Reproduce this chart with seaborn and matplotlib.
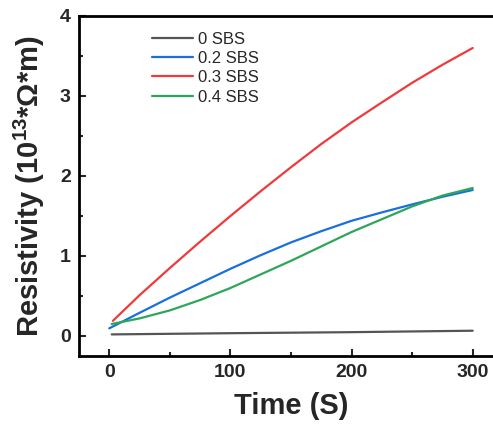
import matplotlib
matplotlib.use('Agg')
import matplotlib.pyplot as plt
import numpy as np
import pandas as pd
import seaborn as sns

# values
t_0 = [2, 100, 200, 300]
r_0 = [0.02, 0.035, 0.048, 0.066]

t_02 = [0, 25, 50, 75, 100, 125, 150, 175, 200, 225, 250, 275, 300]
r_02 = [0.096, 0.29, 0.48, 0.66, 0.84, 1.01, 1.17, 1.31, 1.44, 1.545, 1.645, 1.74, 1.825]

t_03 = [3, 25, 50, 75, 100, 125, 150, 175, 200, 225, 250, 275, 300]
r_03 = [0.19, 0.51, 0.85, 1.18, 1.50, 1.81, 2.11, 2.40, 2.67, 2.92, 3.165, 3.39, 3.60]

t_04 = [2, 25, 50, 75, 100, 125, 150, 175, 200, 225, 250, 275, 300]
r_04 = [0.15, 0.22, 0.32, 0.45, 0.60, 0.77, 0.94, 1.12, 1.30, 1.46, 1.62, 1.755, 1.85]

labels = ['0 SBS', '0.2 SBS', '0.3 SBS', '0.4 SBS']
colors = ['#555555', '#1a6fdf', '#f0393a', '#2ea65a']

frames = []
for lab, tt, rr in zip(labels, [t_0, t_02, t_03, t_04], [r_0, r_02, r_03, r_04]):
    frames.append(pd.DataFrame({'Time': tt, 'Resistivity': rr, 'sample': lab}))
df = pd.concat(frames, ignore_index=True)

sns.set_theme(style='ticks')
plt.rcParams['font.family'] = ['Liberation Sans', 'DejaVu Sans']
plt.rcParams['mathtext.fontset'] = 'custom'
plt.rcParams['mathtext.rm'] = 'Liberation Sans:bold'
plt.rcParams['mathtext.bf'] = 'Liberation Sans:bold'

fig = plt.figure(figsize=(4.93, 4.26), dpi=100)
fig.patch.set_facecolor('white')
ax = fig.add_axes([79/493, 70/426, 424/493, 340/426])
ax.set_facecolor('white')

sns.lineplot(data=df, x='Time', y='Resistivity', hue='sample', palette=colors,
             linewidth=1.6, ax=ax, sort=True)

ax.set_xlim(-25, 325)
ax.set_ylim(-0.25, 4)
ax.set_xticks([0, 100, 200, 300])
ax.set_xticks([50, 150, 250], minor=True)
ax.set_yticks([0, 1, 2, 3, 4])
ax.set_yticks([0.5, 1.5, 2.5, 3.5], minor=True)
ax.tick_params(which='major', direction='in', length=5, width=1.5, labelsize=14, pad=6)
ax.tick_params(which='minor', direction='in', length=3, width=1.5)
for lab in ax.get_xticklabels() + ax.get_yticklabels():
    lab.set_fontweight('bold')
for s in ax.spines.values():
    s.set_linewidth(2)
    s.set_color('black')

ax.set_xlabel('Time (S)', fontsize=21, fontweight='bold', labelpad=8)
ax.set_ylabel(r'Resistivity (10$^{13}$*Ω*m)', fontsize=21, fontweight='bold', labelpad=9)

ax.legend(frameon=False, fontsize=12, loc='upper left',
          bbox_to_anchor=(152/493, 1 - 32/426), bbox_transform=fig.transFigure,
          handlelength=2.45, handletextpad=0.3, labelspacing=0.25,
          borderpad=0, borderaxespad=0)

fig.savefig('out.png', dpi=100, facecolor='white')
